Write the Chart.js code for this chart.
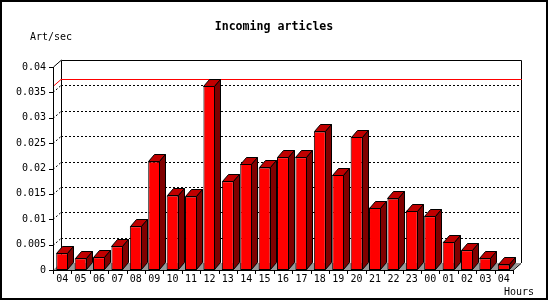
<!DOCTYPE html>
<html lang="en">
<head>
  <meta charset="UTF-8">
  <title>Incoming articles</title>
  <script src="https://cdn.jsdelivr.net/npm/chart.js"></script>
  <style>
    html, body { margin: 0; padding: 0; background: #fff; }
    #wrap { width: 550px; height: 300px; }
  </style>
</head>
<body>
  <div id="wrap"><canvas id="graph"></canvas></div>

  <script>
    // data
    const hours = ['04','05','06','07','08','09','10','11','12','13','14','15','16',
                   '17','18','19','20','21','22','23','00','01','02','03','04'];
    const artPerSec = [0.0033, 0.0023, 0.0025, 0.0047, 0.0086, 0.0214, 0.0147, 0.0145,
                       0.0363, 0.0175, 0.0209, 0.0202, 0.0222, 0.0222, 0.0273, 0.0187,
                       0.0263, 0.0123, 0.0141, 0.0117, 0.0106, 0.0056, 0.0039, 0.0023, 0.0011];
    const maxLine = 0.0363;
    const yTickValues = [0, 0.005, 0.01, 0.015, 0.02, 0.025, 0.03, 0.035, 0.04];
    const yTickLabels = ['0', '0.005', '0.01', '0.015', '0.02', '0.025', '0.03', '0.035', '0.04'];

    const mono = 'DejaVu Sans Mono, Liberation Mono, monospace';
    const wall = { dx: 8, dy: 7 };   // offset of the back wall
    const bar3d = { dx: 6, dy: 7 };  // depth of each bar

    function line(ctx, x1, y1, x2, y2, colour) {
      ctx.strokeStyle = colour || '#000000';
      ctx.beginPath();
      ctx.moveTo(x1, y1);
      ctx.lineTo(x2, y2);
      ctx.stroke();
    }

    const relief = {
      id: 'relief',
      beforeDraw(chart) {
        const ctx = chart.ctx;
        ctx.save();
        ctx.fillStyle = '#fff';
        ctx.fillRect(0, 0, chart.width, chart.height);
        // outer frame
        ctx.fillStyle = '#000';
        ctx.fillRect(0, 0, 548, 2);
        ctx.fillRect(0, 0, 2, 300);
        ctx.fillRect(546, 0, 2, 300);
        ctx.fillRect(0, 298, 548, 2);
        // texts
        ctx.textBaseline = 'middle';
        ctx.font = 'bold 11.6px ' + mono;
        ctx.textAlign = 'center';
        ctx.fillText('Incoming articles', 274, 27);
        ctx.font = '10px ' + mono;
        ctx.textAlign = 'left';
        ctx.fillText('Art/sec', 30, 37);
        ctx.fillText('Hours', 504, 292);
        ctx.restore();
      },
      beforeDatasetsDraw(chart) {
        const { ctx, chartArea: a, scales: { y } } = chart;
        const L = a.left, R = a.right, T = a.top, B = a.bottom;
        ctx.save();
        ctx.lineWidth = 1;
        // floor
        ctx.fillStyle = '#999999';
        ctx.beginPath();
        ctx.moveTo(L, B);
        ctx.lineTo(R, B);
        ctx.lineTo(R + wall.dx, B - wall.dy);
        ctx.lineTo(L + wall.dx, B - wall.dy);
        ctx.closePath();
        ctx.fill();
        // dotted grid on the back wall
        ctx.setLineDash([2, 2]);
        yTickValues.forEach((v, i) => {
          if (i === 0 || i === yTickValues.length - 1) return;
          const py = Math.round(y.getPixelForValue(v)) + 0.5;
          line(ctx, L + wall.dx, py - wall.dy, R + wall.dx, py - wall.dy);
          line(ctx, L, py, L + wall.dx, py - wall.dy);
        });
        ctx.setLineDash([]);
        // back wall frame
        ctx.strokeStyle = '#000000';
        ctx.beginPath();
        ctx.moveTo(L + wall.dx + 0.5, B - wall.dy);
        ctx.lineTo(L + wall.dx + 0.5, T - wall.dy + 0.5);
        ctx.lineTo(R + wall.dx + 0.5, T - wall.dy + 0.5);
        ctx.lineTo(R + wall.dx + 0.5, B - wall.dy);
        ctx.stroke();
        // max line in red
        const my = Math.round(y.getPixelForValue(maxLine));
        ctx.fillStyle = '#ff0000';
        ctx.fillRect(L + wall.dx, my - wall.dy, R - L + 1, 1);
        line(ctx, L, my + 0.5, L + wall.dx, my - wall.dy + 0.5, '#ff0000');
        ctx.restore();
      },
      afterDatasetsDraw(chart) {
        const { ctx, chartArea: a, scales: { y } } = chart;
        const L = a.left, R = a.right, T = a.top, B = a.bottom;
        ctx.save();
        ctx.lineWidth = 1;
        ctx.strokeStyle = '#000';
        // top and side faces of each bar
        chart.getDatasetMeta(0).data.forEach(el => {
          const p = el.getProps(['x', 'y', 'width', 'base'], true);
          const l = Math.round(p.x - p.width / 2) + 0.5;
          const r = Math.round(p.x + p.width / 2) - 0.5;
          const t = Math.round(p.y) + 0.5;
          const b = Math.round(p.base) - 0.5;
          ctx.strokeStyle = '#000000';
          ctx.fillStyle = '#c00000';
          ctx.beginPath();
          ctx.moveTo(l, t);
          ctx.lineTo(l + bar3d.dx, t - bar3d.dy);
          ctx.lineTo(r + bar3d.dx, t - bar3d.dy);
          ctx.lineTo(r, t);
          ctx.closePath();
          ctx.fill();
          ctx.stroke();
          ctx.fillStyle = '#800000';
          ctx.beginPath();
          ctx.moveTo(r, t);
          ctx.lineTo(r + bar3d.dx, t - bar3d.dy);
          ctx.lineTo(r + bar3d.dx, b - bar3d.dy);
          ctx.lineTo(r, b);
          ctx.closePath();
          ctx.fill();
          ctx.stroke();
        });
        // front axes
        const l0 = L + 0.5, b0 = B + 0.5;
        line(ctx, l0, T, l0, b0);
        line(ctx, l0, T, l0 + wall.dx, T - wall.dy);
        line(ctx, L, b0, R, b0);
        line(ctx, R, b0, R + wall.dx, b0 - wall.dy);
        // y ticks
        yTickValues.forEach(v => {
          const py = Math.round(y.getPixelForValue(v)) + 0.5;
          line(ctx, L - 4, py, L, py);
        });
        // x ticks at category boundaries
        const slot = (R - L) / hours.length;
        for (let i = 0; i <= hours.length; i++) {
          const px = Math.round(L + i * slot) + 0.5;
          line(ctx, px, B, px, B + 4);
        }
        ctx.restore();
      }
    };

    new Chart(document.getElementById('graph'), {
      type: 'bar',
      data: {
        labels: hours,
        datasets: [{
          data: artPerSec,
          backgroundColor: '#ff0000',
          borderColor: '#000',
          borderWidth: 1,
          borderSkipped: false,
          categoryPercentage: 1,
          barPercentage: 0.65
        }]
      },
      options: {
        responsive: true,
        maintainAspectRatio: false,
        animation: false,
        layout: { padding: { left: 0, right: 37, top: 67, bottom: 0 } },
        plugins: { legend: { display: false }, tooltip: { enabled: false } },
        scales: {
          x: {
            grid: { display: false, drawTicks: false },
            border: { display: false },
            ticks: { color: '#000', font: { family: mono, size: 10 }, padding: 3, maxRotation: 0, autoSkip: false },
            afterFit(s) { s.height = 30; }
          },
          y: {
            min: 0,
            max: 0.04,
            grid: { display: false, drawTicks: false },
            border: { display: false },
            afterBuildTicks(s) { s.ticks = yTickValues.map(v => ({ value: v })); },
            ticks: {
              color: '#000',
              font: { family: mono, size: 10 },
              padding: 7,
              callback: (v, i) => yTickLabels[i]
            },
            afterFit(s) { s.width = 53; }
          }
        }
      },
      plugins: [relief]
    });
  </script>
</body>
</html>
